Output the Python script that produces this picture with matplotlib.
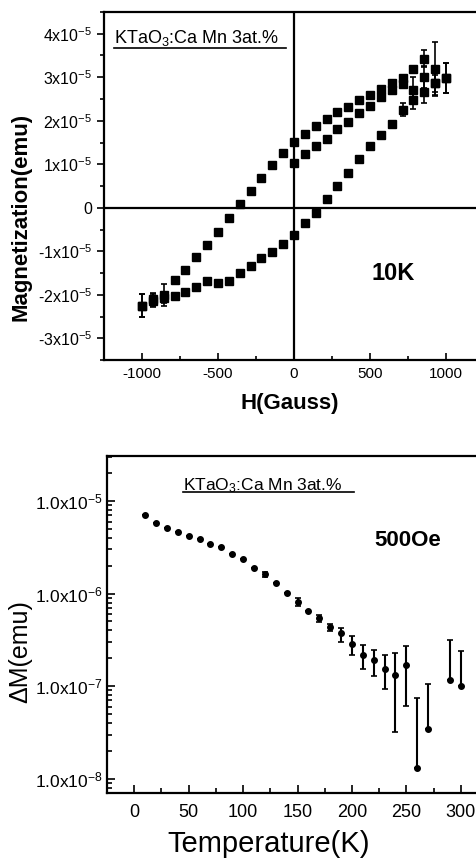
import numpy as np
import matplotlib
matplotlib.use("Agg")
import matplotlib.pyplot as plt
from matplotlib.ticker import MultipleLocator, FuncFormatter, LogLocator, NullFormatter

plt.rcParams['font.family'] = ['Liberation Sans', 'DejaVu Sans']
plt.rcParams['mathtext.default'] = 'regular'
plt.rcParams['axes.unicode_minus'] = False

# hysteresis loop at 10K, magnetization in units of 1e-5 emu
H_DOWN = [1000, 929, 857, 786, 714, 643, 571, 500, 429, 357, 286, 214, 143, 71, 0,
          -71, -143, -214, -286, -357, -429, -500, -571, -643, -714, -786, -857, -929, -1000]
M_DOWN = [2.98, 3.20, 3.43, 3.20, 2.98, 2.86, 2.73, 2.59, 2.48, 2.32, 2.20, 2.05, 1.89, 1.70, 1.50,
          1.25, 0.98, 0.68, 0.39, 0.09, -0.23, -0.55, -0.86, -1.14, -1.43, -1.66, -2.00, -2.10, -2.25]
E_DOWN = [0.35, 0.60, 0.20, 0, 0, 0, 0, 0, 0, 0, 0, 0, 0, 0, 0,
          0, 0, 0, 0, 0, 0, 0, 0, 0, 0, 0, 0.25, 0.15, 0.26]

H_UP = [-1000, -929, -857, -786, -714, -643, -571, -500, -429, -357, -286, -214, -143, -71, 0,
        71, 143, 214, 286, 357, 429, 500, 571, 643, 714, 786, 857, 929, 1000]
M_UP = [-2.25, -2.14, -2.08, -2.02, -1.93, -1.82, -1.69, -1.72, -1.69, -1.50, -1.33, -1.16, -1.02, -0.84, -0.63,
        -0.36, -0.11, 0.20, 0.50, 0.80, 1.11, 1.41, 1.68, 1.93, 2.25, 2.48, 2.66, 2.86, 2.98]
E_UP = [0.26, 0.15, 0.10, 0, 0, 0, 0, 0, 0, 0, 0, 0, 0, 0, 0,
        0, 0, 0, 0, 0, 0, 0, 0, 0, 0.15, 0.20, 0.25, 0.20, 0.35]

H_MID = [0, 71, 143, 214, 286, 357, 429, 500, 571, 643, 714, 786, 857, 929]
M_MID = [1.02, 1.23, 1.41, 1.59, 1.82, 1.98, 2.18, 2.34, 2.55, 2.70, 2.85, 2.70, 3.00, 2.86]
E_MID = [0, 0, 0, 0, 0, 0, 0, 0, 0, 0, 0, 0.30, 0.25, 0.30]

# delta M vs temperature at 500 Oe
TEMP = [10, 20, 30, 40, 50, 60, 70, 80, 90, 100, 110, 120, 130, 140, 150, 160, 170, 180,
        190, 200, 210, 220, 230, 240, 250, 260, 270, 290, 300]
DM = [7.05e-6, 5.82e-6, 5.06e-6, 4.58e-6, 4.21e-6, 3.85e-6, 3.43e-6, 3.15e-6, 2.67e-6, 2.34e-6,
      1.90e-6, 1.62e-6, 1.29e-6, 1.02e-6, 8.13e-7, 6.50e-7, 5.50e-7, 4.36e-7,
      3.76e-7, 2.88e-7, 2.19e-7, 1.90e-7, 1.55e-7, 1.31e-7, 1.71e-7, 1.31e-8, 3.47e-8, 1.16e-7, 9.95e-8]
DM_HI = [7.05e-6, 5.82e-6, 5.06e-6, 4.58e-6, 4.21e-6, 3.85e-6, 3.43e-6, 3.15e-6, 2.67e-6, 2.34e-6,
         1.90e-6, 1.72e-6, 1.29e-6, 1.02e-6, 8.9e-7, 6.50e-7, 5.94e-7, 4.66e-7,
         4.30e-7, 3.46e-7, 2.81e-7, 2.44e-7, 2.15e-7, 2.28e-7, 2.70e-7, 7.5e-8, 1.05e-7, 3.18e-7, 2.38e-7]
DM_LO = [7.05e-6, 5.82e-6, 5.06e-6, 4.58e-6, 4.21e-6, 3.85e-6, 3.43e-6, 3.15e-6, 2.67e-6, 2.34e-6,
         1.90e-6, 1.53e-6, 1.29e-6, 1.02e-6, 7.4e-7, 6.50e-7, 4.94e-7, 3.95e-7,
         3.00e-7, 2.17e-7, 1.52e-7, 1.28e-7, 9.2e-8, 3.18e-8, 6.1e-8, 1.31e-8, 3.47e-8, 1.16e-7, 9.95e-8]

LABEL = 'KTaO$_3$:Ca Mn 3at.%'

fig = plt.figure(figsize=(4.77, 8.58), dpi=100)

# ---- top: M(H) loop ----
ax1 = fig.add_axes([104/477, 1 - 360/858, 380/477, 348/858])
ax1.set_xlim(-1250, 1250)
ax1.set_ylim(-3.5e-5, 4.5e-5)
ax1.axhline(0, color='k', lw=1.6, zorder=1)
ax1.axvline(0, color='k', lw=1.6, zorder=1)

for h, m, e in [(H_DOWN, M_DOWN, E_DOWN), (H_UP, M_UP, E_UP), (H_MID, M_MID, E_MID)]:
    ax1.errorbar(h, np.array(m) * 1e-5, yerr=np.array(e) * 1e-5, fmt='s', color='k',
                 ms=5.5, capsize=2.5, elinewidth=1.2, capthick=1.2, zorder=3)

for s in ax1.spines.values():
    s.set_linewidth(1.6)
ax1.xaxis.set_major_locator(MultipleLocator(500))
ax1.xaxis.set_minor_locator(MultipleLocator(250))
ax1.yaxis.set_major_locator(MultipleLocator(1e-5))
ax1.yaxis.set_minor_locator(MultipleLocator(0.5e-5))
ax1.yaxis.set_major_formatter(FuncFormatter(
    lambda v, p: '0' if abs(v) < 1e-9 else '%dx10$^{-5}$' % round(v / 1e-5)))
ax1.tick_params(axis='y', which='both', direction='out', right=False, labelsize=11.5, width=1.2)
ax1.tick_params(axis='y', which='major', length=5)
ax1.tick_params(axis='y', which='minor', length=3)
ax1.tick_params(axis='x', which='both', direction='in', top=False, labelsize=11, width=1.2)
ax1.tick_params(axis='x', which='major', length=5, pad=5)
ax1.tick_params(axis='x', which='minor', length=3)

ax1.set_ylabel('Magnetization(emu)', fontsize=16, fontweight='bold')
ax1.yaxis.set_label_coords(-0.19, 0.41)
ax1.set_xlabel('H(Gauss)', fontsize=16, fontweight='bold')
ax1.xaxis.set_label_coords(0.49, -0.095)

ax1.text(0.76, 0.25, '10K', transform=ax1.transAxes, ha='center', va='center',
         fontsize=17, fontweight='bold')
ax1.text(0.026, 0.910, LABEL, transform=ax1.transAxes, ha='left', va='baseline', fontsize=13)
ax1.plot([0.026, 0.48], [0.897, 0.897], transform=ax1.transAxes, color='k', lw=1.2, clip_on=False)

# ---- bottom: delta M vs T ----
ax2 = fig.add_axes([107/477, 1 - 793/858, 381/477, 337/858])
ax2.set_yscale('log')
ax2.set_xlim(-25, 325)
ax2.set_ylim(7e-9, 3.07e-5)

dm = np.array(DM)
yerr = [dm - np.array(DM_LO), np.array(DM_HI) - dm]
ax2.errorbar(TEMP, dm, yerr=yerr, fmt='o', color='k', ms=4, capsize=2.5,
             elinewidth=1.5, capthick=1.2)

for s in ax2.spines.values():
    s.set_linewidth(1.6)
ax2.xaxis.set_major_locator(MultipleLocator(50))
ax2.xaxis.set_minor_locator(MultipleLocator(25))
ax2.yaxis.set_major_locator(LogLocator(base=10))
ax2.yaxis.set_minor_locator(LogLocator(base=10, subs=np.arange(2, 10)))
ax2.yaxis.set_minor_formatter(NullFormatter())
ax2.yaxis.set_major_formatter(FuncFormatter(lambda v, p: '1.0x10$^{%d}$' % round(np.log10(v))))
ax2.tick_params(axis='both', which='both', direction='in', top=False, right=False, width=1.2)
ax2.tick_params(axis='both', which='major', length=6)
ax2.tick_params(axis='both', which='minor', length=3.5)
ax2.tick_params(axis='x', labelsize=13, pad=8)
ax2.tick_params(axis='y', labelsize=12.5, pad=3)

ax2.set_ylabel('ΔM(emu)', fontsize=18)
ax2.yaxis.set_label_coords(-0.197, 0.42)
ax2.set_xlabel('Temperature(K)', fontsize=21)
ax2.xaxis.set_label_coords(0.423, -0.11)

ax2.text(0.79, 0.748, '500Oe', transform=ax2.transAxes, ha='center', va='center',
         fontsize=16, fontweight='bold')
ax2.text(0.2, 0.899, LABEL, transform=ax2.transAxes, ha='left', va='baseline', fontsize=12.5)
ax2.plot([0.2, 0.648], [0.892, 0.892], transform=ax2.transAxes, color='k', lw=1.2, clip_on=False)

fig.savefig('out.png', dpi=100)
